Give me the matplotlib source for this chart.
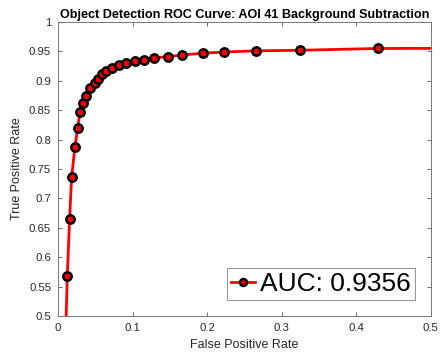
import matplotlib
matplotlib.use('Agg')
import matplotlib.pyplot as plt

plt.rcParams['font.family'] = ['Liberation Sans', 'DejaVu Sans']

# ROC operating points
fpr = [0.0125, 0.0156, 0.0183, 0.0228, 0.0264, 0.0295, 0.0335, 0.0375, 0.0433,
       0.0492, 0.054, 0.059, 0.0648, 0.0724, 0.0818, 0.0912, 0.1028, 0.1157,
       0.1287, 0.147, 0.1666, 0.195, 0.2225, 0.265, 0.325, 0.4285]
tpr = [0.569, 0.665, 0.737, 0.788, 0.820, 0.847, 0.862, 0.875, 0.888,
       0.897, 0.903, 0.911, 0.917, 0.922, 0.927, 0.930, 0.934, 0.936,
       0.939, 0.941, 0.944, 0.947, 0.949, 0.951, 0.952, 0.955]
# curve end points (line only, no marker)
fpr_line = [0.0] + fpr + [1.0]
tpr_line = [0.0] + tpr + [0.957]
auc = 0.9356

xticks = [0, 0.1, 0.2, 0.3, 0.4, 0.5]
yticks = [0.5, 0.55, 0.6, 0.65, 0.7, 0.75, 0.8, 0.85, 0.9, 0.95, 1.0]

fig = plt.figure(figsize=(4.46, 3.58), dpi=100)
ax = fig.add_axes([0.130, 0.117, 0.836, 0.8215])

ax.plot(fpr_line, tpr_line, color='red', lw=2, zorder=2)
ax.plot(fpr, tpr, 'o', color='red', mfc='red', mec='black', mew=1.8, ms=6,
        zorder=3)
# legend proxy
ax.plot([], [], '-o', color='red', lw=2, mfc='red', mec='black', mew=1.8,
        ms=5, label=f'AUC: {auc}')

ax.set_xlim(0, 0.5)
ax.set_ylim(0.5, 1)
ax.set_xticks(xticks)
ax.set_xticklabels(['0', '0.1', '0.2', '0.3', '0.4', '0.5'])
ax.set_yticks(yticks)
ax.set_yticklabels(['0.5', '0.55', '0.6', '0.65', '0.7', '0.75', '0.8', '0.85',
                    '0.9', '0.95', '1'])

gray = '#262626'
ax.tick_params(direction='in', top=True, right=True, length=3, width=0.6,
               colors='#555555', labelcolor=gray, labelsize=8.2, pad=5)
for s in ax.spines.values():
    s.set_color('#777777')
    s.set_linewidth(0.7)

ax.set_xlabel('False Positive Rate', fontsize=9, color=gray, labelpad=4)
ax.set_ylabel('True Positive Rate', fontsize=9, color=gray, labelpad=4)
ax.set_title('Object Detection ROC Curve: AOI 41 Background Subtraction',
             fontsize=9.1, fontweight='bold', pad=3)

leg = ax.legend(loc='lower right', fontsize=19, frameon=True, fancybox=False,
                handlelength=0.9, handletextpad=0.2, borderpad=0.15,
                borderaxespad=0.6)
leg.get_frame().set_edgecolor('#777777')
leg.get_frame().set_linewidth(0.7)

plt.savefig('out.png', dpi=100)
